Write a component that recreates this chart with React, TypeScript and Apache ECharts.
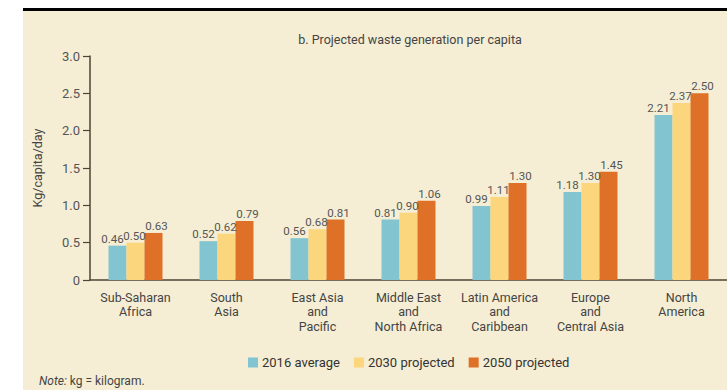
import React, { useEffect, useRef } from "react";
import * as echarts from "echarts";

const categories = [
  "Sub-Saharan\nAfrica",
  "South\nAsia",
  "East Asia\nand\nPacific",
  "Middle East\nand\nNorth Africa",
  "Latin America\nand\nCaribbean",
  "Europe\nand\nCentral Asia",
  "North\nAmerica",
];
const seriesNames = ["2016 average", "2030 projected", "2050 projected"];
const avg2016 = [0.46, 0.52, 0.56, 0.81, 0.99, 1.18, 2.21];
const proj2030 = [0.5, 0.62, 0.68, 0.9, 1.11, 1.3, 2.37];
const proj2050 = [0.63, 0.79, 0.81, 1.06, 1.3, 1.45, 2.5];
const colors = ["#82c4cf", "#fbd67c", "#de7027"];
const labelOffsets = [-5, -1, 3];

const FONT = "Roboto, 'Liberation Sans', Arial, sans-serif";

export default function App() {
  const ref = useRef<HTMLDivElement>(null);
  useEffect(() => {
    document.body.style.margin = "0";
    const chart = echarts.init(ref.current!, null, { renderer: "svg" });
    const values = [avg2016, proj2030, proj2050];
    chart.setOption({
      animation: false,
      backgroundColor: "#ffffff",
      textStyle: { fontFamily: FONT },
      graphic: [
        {
          type: "rect",
          z: -10,
          silent: true,
          shape: { x: 23, y: 11, width: 704, height: 379 },
          style: { fill: "#f5eed4" },
        },
        {
          type: "rect",
          z: -9,
          silent: true,
          shape: { x: 23, y: 8, width: 704, height: 3 },
          style: { fill: "#000000" },
        },
        {
          type: "text",
          x: 410,
          y: 39,
          style: {
            text: "b. Projected waste generation per capita",
            fontSize: 12.5,
            fontFamily: FONT,
            fill: "#444444",
            textAlign: "center",
            textVerticalAlign: "middle",
          },
        },
        {
          type: "text",
          x: 39,
          y: 381,
          style: {
            text: "{i|Note:} kg = kilogram.",
            fontSize: 12,
            fontFamily: FONT,
            fill: "#444444",
            textVerticalAlign: "middle",
            rich: {
              i: { fontStyle: "italic", fontSize: 12, fontFamily: FONT, fill: "#444444" },
            },
          },
        },
      ],
      legend: {
        left: 243,
        top: 351,
        itemWidth: 10,
        itemHeight: 10,
        itemGap: 14,
        icon: "rect",
        textStyle: { fontSize: 13, color: "#333333", fontFamily: FONT, padding: [0, 0, 0, -1] },
        data: seriesNames,
      },
      grid: { left: 90, right: -3.5, top: 56, bottom: 110, containLabel: false },
      xAxis: {
        type: "category",
        data: categories,
        axisLine: { lineStyle: { color: "#4b4537", width: 1.5 } },
        axisTick: { length: 5, lineStyle: { color: "#4b4537", width: 1.2 } },
        axisLabel: {
          interval: 0,
          margin: 10,
          fontSize: 12.5,
          lineHeight: 14.5,
          color: "#444444",
          fontFamily: FONT,
        },
      },
      yAxis: {
        type: "value",
        min: 0,
        max: 3,
        interval: 0.5,
        name: "Kg/capita/day",
        nameLocation: "middle",
        nameGap: 46,
        nameTextStyle: { fontSize: 12.5, color: "#444444", fontFamily: FONT },
        splitLine: { show: false },
        axisLine: { show: true, lineStyle: { color: "#4b4537", width: 1.5 } },
        axisTick: { show: true, length: 7, lineStyle: { color: "#4b4537", width: 1.2 } },
        axisLabel: {
          margin: 10,
          fontSize: 13,
          color: "#555555",
          fontFamily: FONT,
          formatter: (v: number) => (v === 0 ? "0" : v.toFixed(1)),
        },
      },
      series: seriesNames.map((name, i) => ({
        name,
        type: "bar",
        data: values[i],
        barWidth: 18,
        barGap: "0%",
        itemStyle: { color: colors[i] },
        label: {
          show: true,
          position: "top",
          distance: 1,
          offset: [labelOffsets[i], 0],
          fontSize: 11.5,
          color: "#555555",
          fontFamily: FONT,
          formatter: (p: any) => p.value.toFixed(2),
        },
      })),
    });
    return () => chart.dispose();
  }, []);
  return (
    <div
      ref={ref}
      style={{ position: "fixed", left: 0, top: 0, width: 727, height: 390 }}
    />
  );
}
